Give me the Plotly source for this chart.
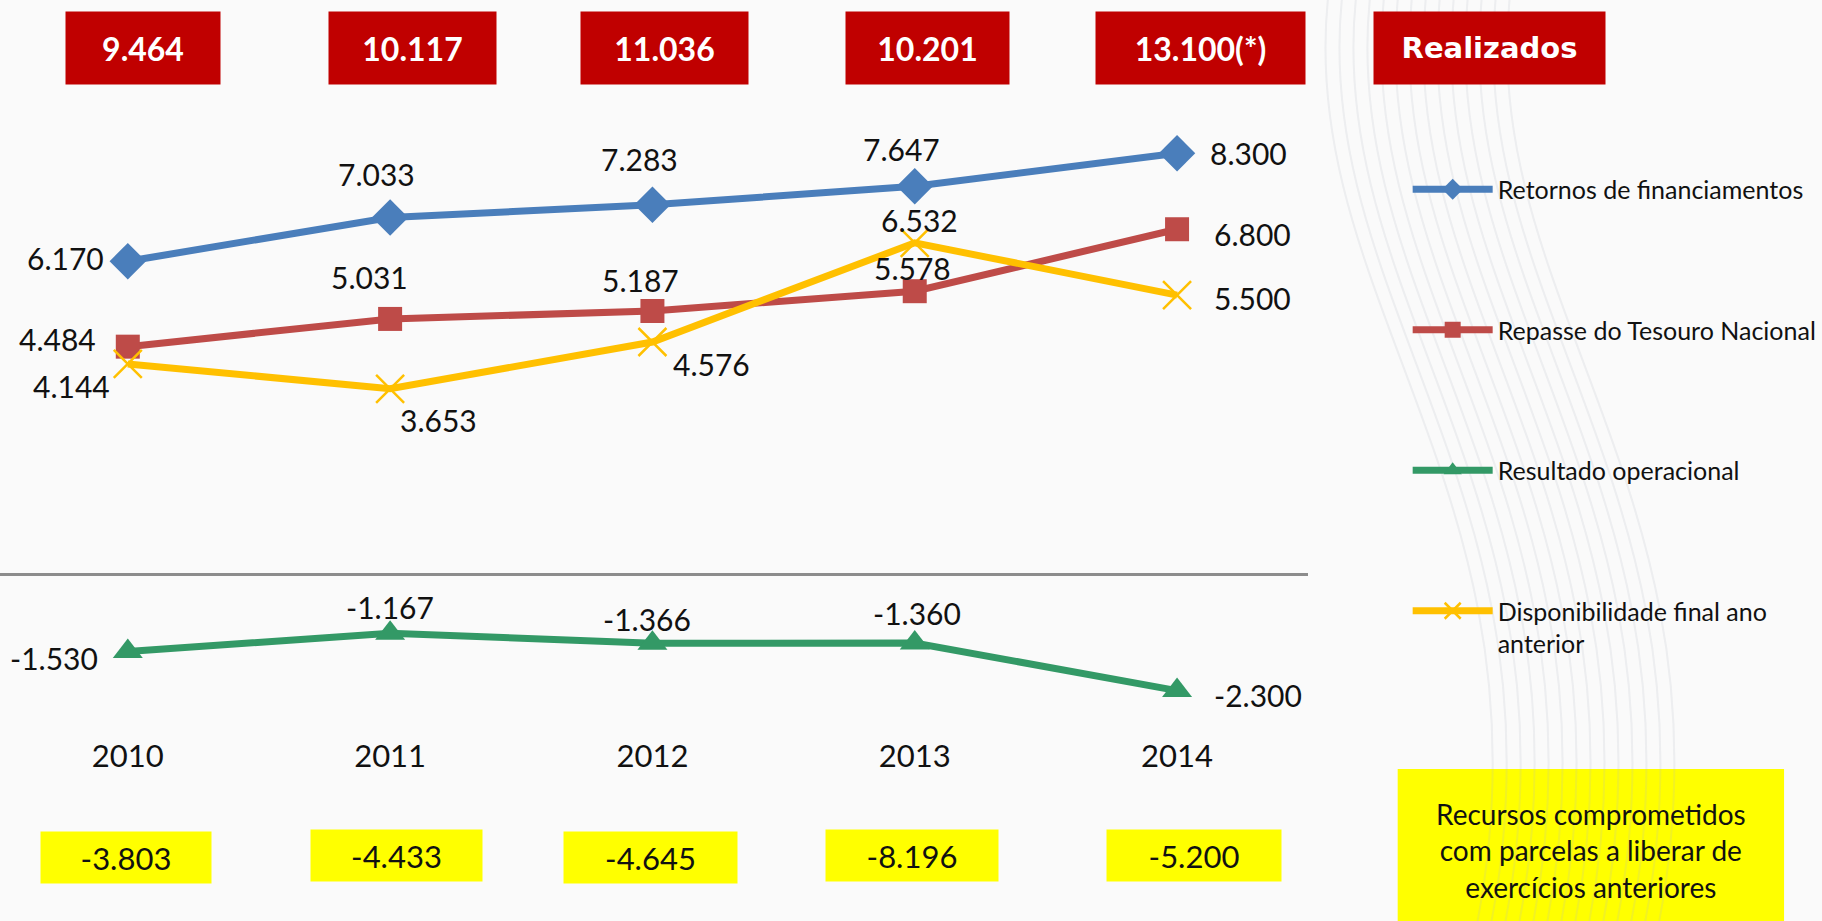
import plotly.graph_objects as go

# ---------------- data ----------------
years = [2010, 2011, 2012, 2013, 2014]
retornos = [6170, 7033, 7283, 7647, 8300]
repasse = [4484, 5031, 5187, 5578, 6800]
resultado = [-1530, -1167, -1366, -1360, -2300]
disponibilidade = [4144, 3653, 4576, 6532, 5500]
realizados_totais = ["9.464", "10.117", "11.036", "10.201", "13.100(*)"]
comprometidos = ["-3.803", "-4.433", "-4.645", "-8.196", "-5.200"]
series_names = ["Retornos de financiamentos", "Repasse do Tesouro Nacional",
                "Resultado operacional", "Disponibilidade final ano<br>anterior"]
realizados_label = "Realizados"
comprometidos_label = "Recursos comprometidos<br>com parcelas a liberar de<br>exercícios anteriores"

# ---------------- styles ----------------
W, H = 1822, 921
FONT = "Lato, 'Open Sans', sans-serif"
colors = ["#4A7EBB", "#BE4B48", "#339966", "#FFC000"]
symbols = ["diamond", "square", "triangle-up", "x-thin"]
msizes = [28, 24, 26, 28]

def fmt(v):
    s = f"{abs(v):,}".replace(",", ".")
    return ("-" if v < 0 else "") + s

fig = go.Figure()
all_series = [retornos, repasse, resultado, disponibilidade]
for i, vals in enumerate(all_series):
    marker = dict(symbol=symbols[i], size=msizes[i], color=colors[i])
    if symbols[i] == "x-thin":
        marker["line"] = dict(color=colors[i], width=2.5)
    fig.add_trace(go.Scatter(
        x=years, y=vals, mode="lines+markers", name=series_names[i],
        legendgroup=f"g{i}",
        line=dict(color=colors[i], width=7),
        marker=marker,
        hoverinfo="skip",
    ))

# label offsets (dx, dy in screen px, dy positive = down) and anchors
label_style = [
    [("right", -22, -3), ("center", -14, -43), ("center", -13, -46), ("center", -13, -37), ("left", 31, 0)],
    [("right", -30, -8), ("center", -21, -42), ("center", -12, -31), ("center", -2, -23), ("left", 35, 5)],
    [("right", -28, 6), ("center", 0, -26), ("center", -5, -24), ("center", 2, -30), ("left", 35, 4)],
    [("right", -16, 22), ("center", 48, 31), ("center", 59, 22), ("center", 5, -23), ("left", 35, 3)],
]
annotations = []
for i, vals in enumerate(all_series):
    for j, (yr, v) in enumerate(zip(years, vals)):
        anc, dx, dy = label_style[i][j]
        annotations.append(dict(
            x=yr, y=v, xref="x", yref="y", text=fmt(v), showarrow=False,
            xanchor=anc, yanchor="middle", xshift=dx, yshift=-dy,
            font=dict(family=FONT, size=30, color="#111111"),
        ))

# top red boxes
top_shift = [15, 22, 12, 13, 23]
top_w = [154, 167, 167, 163, 209]
for yr, t, sx, w in zip(years, realizados_totais, top_shift, top_w):
    annotations.append(dict(
        x=yr, y=1 - 48 / H, xref="x", yref="paper", text=f"<b>{t}</b>",
        showarrow=False, xanchor="center", yanchor="middle", xshift=sx,
        width=w, height=72, bgcolor="#C00000", borderpad=0,
        font=dict(family=FONT, size=32, color="white"),
    ))
annotations.append(dict(
    x=1492 / W, y=1 - 48 / H, xref="paper", yref="paper", text=f"<b>{realizados_label}</b>",
    showarrow=False, xanchor="center", yanchor="middle",
    width=231, height=72, bgcolor="#C00000", borderpad=0,
    font=dict(family="'DejaVu Sans', Verdana, sans-serif", size=29, color="white"),
))

# bottom yellow boxes
bot_shift = [-2, 6, -2, -3, 17]
bot_y = [857, 855, 857, 855, 855]
bot_w = [170, 171, 173, 172, 174]
for yr, t, sx, yy, w in zip(years, comprometidos, bot_shift, bot_y, bot_w):
    annotations.append(dict(
        x=yr, y=1 - yy / H, xref="x", yref="paper", text=t,
        showarrow=False, xanchor="center", yanchor="middle", xshift=sx,
        width=w, height=51, bgcolor="#FFFF00", borderpad=0,
        font=dict(family=FONT, size=31, color="#111111"),
    ))

# bottom-right note box
annotations.append(dict(
    x=1594 / W, y=1 - 850 / H, xref="paper", yref="paper", text=comprometidos_label,
    showarrow=False, xanchor="center", yanchor="middle",
    font=dict(family=FONT, size=28, color="#111111"),
))
shapes = [dict(type="rect", xref="paper", yref="paper", x0=1400 / W, x1=1787 / W,
               y0=0, y1=1 - 769 / H, fillcolor="#FFFF00", line=dict(width=0), layer="below")]

# subtle background swirl on the right
for k in range(14):
    off = k * 14
    shapes.append(dict(
        type="path", xref="paper", yref="paper", layer="below",
        path=(f"M {(1330 + off) / W},{1 - 0 / H} "
              f"C {(1300 + off) / W},{1 - 300 / H} {(1560 + off) / W},{1 - 500 / H} {(1480 + off) / W},{1 - 921 / H}"),
        line=dict(color="rgba(180,185,195,0.18)", width=2),
    ))

xr0 = 2010 - 128 / 262.75
xr1 = 2010 + (1310 - 128) / 262.75
slope = 50.7 / 1000.0
zero_px = 574.0
y_top = zero_px / slope
y_bot = (zero_px - 735) / slope

fig.update_layout(
    width=W, height=H,
    margin=dict(l=0, r=0, t=0, b=0),
    paper_bgcolor="#FAFAFA", plot_bgcolor="rgba(0,0,0,0)",
    showlegend=True,
    legend=dict(
        x=1410 / W, y=1 - 166.5 / H, xanchor="left", yanchor="top",
        bgcolor="rgba(0,0,0,0)", font=dict(family=FONT, size=25, color="#111111"),
        tracegroupgap=105, itemwidth=80, valign="top", traceorder="grouped",
    ),
    xaxis=dict(domain=[0, 1310 / W], range=[xr0, xr1], showgrid=False, zeroline=False,
               showline=False, tickmode="array", tickvals=years, ticktext=[str(y) for y in years],
               ticks="", tickfont=dict(family=FONT, size=31, color="#111111"), fixedrange=True),
    yaxis=dict(domain=[1 - 735 / H, 1], range=[y_bot, y_top], showgrid=False,
               zeroline=True, zerolinecolor="#8C8C8C", zerolinewidth=3,
               showticklabels=False, showline=False, ticks="", fixedrange=True),
    annotations=annotations,
    shapes=shapes,
)

fig.write_html("out.html", post_script="document.body.style.margin='0';",
               config={"displayModeBar": False})
